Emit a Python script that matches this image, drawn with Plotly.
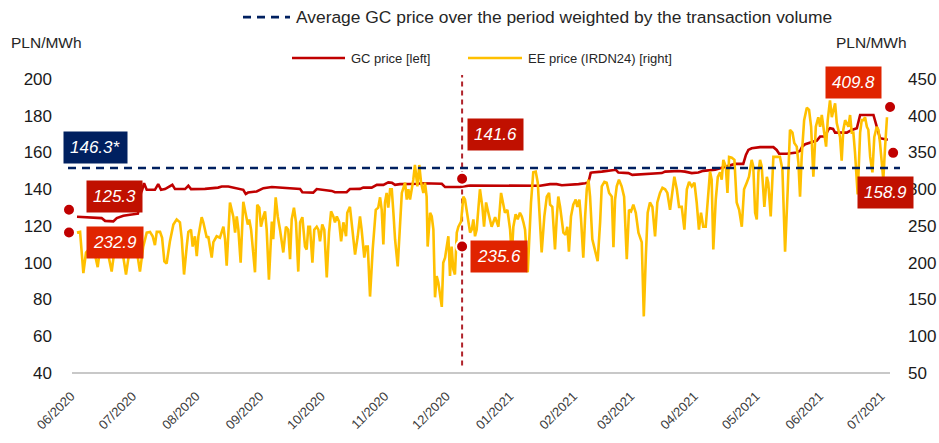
import pandas as pd
import plotly.graph_objects as go

START = pd.Timestamp("2020-06-01")

# ---- EE price (IRDN24), right axis: day offset from 2020-06-01 and value
ee_day = [0, 1.5, 3.1, 4.4, 6.3, 7.9, 10.1, 11.2, 12.8, 14.5, 16.9, 18.5, 20.1, 21.8, 23.9, 25.9, 28.3, 30.7, 32.3, 34.0,
          35.6, 36.9, 38.0, 38.9, 40.5, 41.5, 42.6, 43.7, 45.3, 47.0, 48.6, 50.2, 51.1, 52.2, 53.5, 54.3, 55.6, 56.4, 57.5, 58.4,
          59.2, 60.8, 61.6, 62.4, 63.3, 64.0, 65.7, 66.5, 68.1, 69.7, 71.4, 72.2, 73.0, 74.6, 76.2, 77.1, 77.9, 78.7, 79.8, 81.1,
          82.3, 83.3, 84.0, 84.9, 86.8, 87.9, 88.9, 89.7, 90.9, 91.7, 92.5, 93.6, 95.0, 95.7, 96.9, 97.9, 99.0, 100.6, 101.9, 103.0,
          103.9, 104.7, 105.8, 106.8, 107.9, 108.8, 109.9, 111.2, 112.0, 112.8, 113.6, 114.8, 115.7, 116.9, 117.7, 118.5, 119.6, 120.6, 121.8, 122.9,
          123.9, 125.0, 125.8, 126.7, 127.8, 128.8, 129.9, 131.2, 131.8, 133.1, 134.3, 135.6, 136.9, 138.0, 138.8, 140.1, 140.9, 141.8, 142.9, 144.2,
          145.7, 146.9, 147.8, 148.6, 149.4, 150.2, 151.0, 151.8, 152.7, 153.5, 154.3, 155.1, 156.4, 157.5, 158.4, 160.0, 160.8, 161.6, 162.4, 164.0,
          164.8, 166.0, 166.9, 167.8, 168.9, 169.7, 170.5, 171.0, 172.2, 173.0, 173.8, 174.6, 175.4, 176.2, 177.0, 177.9, 178.6, 179.5, 180.3, 181.1,
          181.9, 182.7, 183.5, 184.3, 185.2, 186.0, 187.3, 188.4, 189.2, 190.1, 190.8, 191.7, 192.5, 193.3, 194.1, 194.9, 196.5, 197.7, 198.5, 199.5,
          200.6, 201.4, 202.2, 203.9, 205.5, 206.8, 207.9, 208.7, 209.9, 211.2, 212.0, 212.8, 213.9, 214.9, 216.0, 216.9, 217.7, 218.5, 219.8, 220.6,
          221.4, 222.5, 223.7, 224.7, 225.8, 226.6, 227.9, 229.1, 230.2, 230.7, 231.8, 233.1, 233.9, 234.7, 235.6, 236.4, 237.2, 238.3, 239.1, 239.9,
          240.9, 242.0, 243.2, 244.0, 245.0, 245.8, 246.9, 247.8, 248.6, 249.4, 250.2, 251.3, 252.6, 253.9, 255.1, 255.9, 257.2, 258.3, 259.5, 260.8,
          261.6, 262.4, 263.2, 264.3, 265.6, 266.8, 268.1, 269.2, 270.2, 271.3, 272.5, 273.8, 275.4, 276.4, 277.4, 278.3, 279.4, 280.6, 281.9, 283.0,
          284.3, 285.5, 286.8, 287.9, 289.2, 290.3, 291.3, 292.5, 293.6, 294.9, 296.2, 297.4, 298.5, 299.8, 301.1, 302.2, 303.3, 304.3, 305.4, 306.6,
          307.9, 308.7, 309.5, 310.3, 311.5, 312.5, 313.6, 314.4, 315.2, 316.4, 317.2, 318.0, 319.3, 320.6, 321.7, 322.9, 324.2, 325.3, 326.6, 327.7,
          329.0, 329.8, 330.7, 331.5, 332.3, 333.1, 333.9, 335.2, 336.4, 337.1, 338.3, 339.6, 341.2, 342.8, 344.0, 345.3, 346.6, 347.7, 348.9, 349.8,
          351.0, 351.8, 352.6, 353.4, 354.6, 355.9, 357.0, 358.0, 359.1, 360.3, 361.5, 362.4, 363.2, 364.5, 365.3, 366.1, 367.2, 368.1, 368.9, 369.7,
          370.5, 371.3, 372.1, 372.9, 373.7, 374.6, 375.4, 376.2, 377.0, 377.8, 378.6, 379.4, 380.7, 381.9, 382.7, 383.5, 384.3, 385.2, 385.9, 386.8,
          387.9, 388.8, 390.0, 390.8, 391.6, 392.4, 393.2, 394.0, 395.0]
ee_val = [241, 242, 186, 214, 220, 222, 194, 218, 222, 221, 188, 222, 228, 222, 184, 222, 232, 188, 222, 241,
          242, 236, 224, 242, 242, 234, 202, 199, 229, 252, 259, 255, 232, 184, 222, 242, 245, 222, 236, 209,
          236, 262, 255, 245, 234, 236, 207, 228, 236, 234, 249, 232, 196, 282, 263, 241, 263, 245, 200, 283,
          263, 252, 259, 245, 187, 279, 275, 249, 263, 270, 245, 177, 256, 232, 289, 263, 245, 214, 249, 245,
          205, 259, 275, 255, 188, 255, 262, 222, 218, 249, 249, 200, 245, 249, 245, 229, 252, 245, 180, 241,
          270, 263, 255, 263, 256, 229, 255, 236, 268, 276, 245, 211, 236, 263, 245, 207, 222, 222, 154, 218,
          272, 275, 289, 272, 225, 282, 295, 275, 300, 300, 268, 232, 195, 255, 295, 309, 286, 300, 286, 313,
          333, 304, 333, 309, 295, 309, 290, 222, 268, 263, 245, 153, 182, 173, 154, 140, 200, 207, 222, 236,
          182, 222, 191, 184, 241, 249, 256, 290, 286, 268, 255, 241, 245, 259, 236, 245, 300, 276, 249, 282,
          268, 256, 249, 262, 249, 295, 276, 268, 272, 245, 209, 249, 266, 259, 268, 263, 255, 245, 187, 232,
          282, 323, 324, 309, 249, 214, 263, 290, 295, 279, 276, 218, 259, 290, 276, 255, 241, 238, 249, 215,
          263, 279, 286, 276, 286, 259, 207, 263, 300, 313, 290, 232, 218, 202, 255, 304, 310, 309, 295, 290,
          221, 286, 304, 313, 304, 290, 205, 272, 270, 279, 268, 241, 228, 127, 209, 268, 282, 276, 236, 282,
          295, 302, 300, 295, 272, 300, 317, 300, 276, 276, 245, 300, 310, 304, 309, 282, 245, 268, 249, 249,
          304, 324, 313, 218, 286, 317, 323, 313, 340, 331, 295, 344, 343, 340, 282, 272, 249, 300, 309, 317,
          340, 331, 268, 259, 323, 340, 331, 276, 317, 309, 263, 344, 344, 344, 327, 215, 300, 381, 377, 363,
          358, 336, 290, 344, 394, 411, 408, 385, 317, 385, 398, 385, 401, 371, 358, 394, 421, 398, 408, 417,
          390, 381, 371, 339, 381, 394, 390, 385, 401, 377, 377, 350, 293, 377, 394, 394, 398, 385, 381, 344,
          323, 371, 385, 381, 363, 340, 313, 354, 398]

# ---- GC price, left axis
gc_day = [0, 3.9, 8.8, 12.0, 13.7, 17.7, 19.4, 22.6, 25.8, 29.7, 31.2, 31.8, 32.7, 34.0, 38.0, 39.6, 41.0, 42.9, 46.5, 47.8,
          52.7, 54.3, 55.6, 62.4, 68.8, 70.6, 73.8, 77.9, 81.1, 82.3, 83.4, 87.6, 90.9, 95.0, 99.0, 104.7, 108.8, 109.9, 115.2, 116.9,
          121.0, 124.2, 125.8, 131.5, 133.1, 138.0, 139.6, 143.7, 146.2, 149.4, 151.8, 153.6, 155.1, 157.5, 166.3, 168.1, 177.9, 179.5, 184.3, 186.8,
          191.7, 206.3, 215.2, 225.8, 230.7, 233.9, 236.4, 242.9, 244.6, 247.8, 249.4, 250.5, 251.1, 255.9, 260.8, 262.8, 264.0, 268.9, 270.8, 277.0,
          281.9, 285.2, 286.8, 293.4, 296.5, 299.8, 303.0, 305.4, 311.2, 315.2, 320.9, 324.9, 326.2, 327.4, 329.0, 333.1, 339.6, 341.2, 342.4, 346.1,
          351.0, 352.6, 353.6, 355.1, 358.3, 360.8, 362.4, 364.8, 366.3, 367.2, 368.7, 369.7, 375.4, 377.8, 380.3, 381.4, 381.9, 388.4, 389.6, 391.6,
          395.4]
gc_val = [125.0, 124.8, 124.5, 124.3, 122.8, 122.5, 124.3, 125.6, 126.1, 126.7, 138.1, 139.7, 143.3, 139.7, 139.7, 142.8, 139.7, 140.1, 142.4, 140.1,
          140.1, 141.9, 140.1, 140.2, 140.9, 141.5, 141.5, 140.6, 139.7, 137.4, 138.2, 138.8, 140.6, 141.2, 140.9, 140.1, 140.1, 138.4, 138.2, 140.1,
          139.7, 139.1, 138.4, 138.4, 140.1, 140.2, 140.9, 140.9, 142.4, 142.4, 143.7, 143.5, 142.4, 142.8, 143.0, 143.3, 143.0, 141.2, 141.2, 141.3,
          142.0, 142.0, 141.9, 141.9, 142.8, 142.8, 142.2, 142.4, 142.8, 143.3, 143.7, 148.9, 149.1, 149.6, 150.2, 150.6, 149.1, 148.8, 147.8, 148.1,
          148.4, 148.8, 149.6, 149.9, 149.6, 148.8, 149.1, 150.0, 150.6, 151.8, 153.8, 153.8, 158.7, 161.4, 162.3, 162.9, 162.9, 161.4, 159.3, 159.3,
          160.0, 160.9, 163.1, 164.5, 165.4, 166.5, 168.7, 168.7, 172.3, 173.2, 172.8, 170.8, 170.8, 172.3, 173.2, 177.7, 180.4, 180.4, 175.9, 167.8,
          166.9]

# ---- highlighted points
gc_mark_day = [-3.9, 187.8, 398.0]
gc_mark_val = [128.8, 145.7, 159.8]
ee_mark_day = [-3.9, 187.8, 396.5]
ee_mark_val = [241.2, 222.2, 412.0]

avg_line_value = 151.6
avg_label = "146.3*"
split_day = 187.8

tick_dates = ["2020-06-01", "2020-07-01", "2020-08-01", "2020-09-01", "2020-10-01", "2020-11-01", "2020-12-01",
              "2021-01-01", "2021-02-01", "2021-03-01", "2021-04-01", "2021-05-01", "2021-06-01", "2021-07-01"]
tick_text = ["06/2020", "07/2020", "08/2020", "09/2020", "10/2020", "11/2020", "12/2020",
             "01/2021", "02/2021", "03/2021", "04/2021", "05/2021", "06/2021", "07/2021"]

left_ticks = [40, 60, 80, 100, 120, 140, 160, 180, 200]
right_ticks = [50, 100, 150, 200, 250, 300, 350, 400, 450]

RED = "#C00000"
RED_BOX = "#C01000"
RED2 = "#E02400"
GOLD = "#FFC000"
NAVY = "#002060"
FONT = "Liberation Sans, Arial, sans-serif"
TXT = "#262626"

# pixel scale of the time axis: day 0 at px 77, 2.0506 px per day
DAY0_PX, PX_PER_DAY = 77.0, 2.0506
L, R, T, B = 64, 898, 79, 373.5
W, H = R - L, B - T


def px(xp):
    return (xp - L) / W


def py(yp):
    return (B - yp) / H


def to_dates(days):
    return [START + pd.Timedelta(days=d) for d in days]


n_ee = min(len(ee_day), len(ee_val))
n_gc = min(len(gc_day), len(gc_val))

fig = go.Figure()
fig.add_trace(go.Scatter(x=to_dates(ee_day[:n_ee]), y=ee_val[:n_ee], mode="lines", yaxis="y2",
                         line=dict(color=GOLD, width=2.6), name="EE price (IRDN24) [right]"))
fig.add_trace(go.Scatter(x=to_dates(gc_day[:n_gc]), y=gc_val[:n_gc], mode="lines", yaxis="y",
                         line=dict(color=RED, width=2.6), name="GC price [left]"))
fig.add_trace(go.Scatter(x=to_dates(gc_mark_day), y=gc_mark_val, mode="markers", yaxis="y", cliponaxis=False,
                         marker=dict(color=RED, size=12, line=dict(color="white", width=2))))
fig.add_trace(go.Scatter(x=to_dates(ee_mark_day), y=ee_mark_val, mode="markers", yaxis="y2", cliponaxis=False,
                         marker=dict(color=RED, size=12, line=dict(color="white", width=2))))

shapes = [
    # x axis line
    dict(type="line", xref="paper", yref="paper", x0=px(72), x1=px(890), y0=0, y1=0,
         line=dict(color="#C8C8C8", width=2), layer="below"),
    # average line
    dict(type="line", xref="paper", yref="y", x0=px(68), x1=px(900), y0=avg_line_value, y1=avg_line_value,
         line=dict(color=NAVY, width=2.6, dash="8px,6px"), layer="above"),
    # vertical split line
    dict(type="line", xref="x", yref="paper", x0=START + pd.Timedelta(days=split_day),
         x1=START + pd.Timedelta(days=split_day),
         y0=py(366), y1=py(75), line=dict(color="#B0232A", width=2, dash="5px,4px"), layer="below"),
    # legend symbols
    dict(type="line", xref="paper", yref="paper", x0=px(243), x1=px(290), y0=py(17), y1=py(17),
         line=dict(color=NAVY, width=2.6, dash="8px,6px")),
    dict(type="line", xref="paper", yref="paper", x0=px(292), x1=px(345), y0=py(58), y1=py(58),
         line=dict(color=RED, width=2.6)),
    dict(type="line", xref="paper", yref="paper", x0=px(468), x1=px(522), y0=py(58), y1=py(58),
         line=dict(color=GOLD, width=2.6)),
]

annotations = [
    dict(text="Average GC price over the period weighted by the transaction volume", xref="paper", yref="paper",
         x=px(294), y=py(17), xanchor="left", yanchor="middle", showarrow=False,
         font=dict(family=FONT, size=17.4, color=TXT)),
    dict(text="GC price [left]", xref="paper", yref="paper", x=px(349), y=py(58), xanchor="left", yanchor="middle",
         showarrow=False, font=dict(family=FONT, size=13, color=TXT)),
    dict(text="EE price (IRDN24) [right]", xref="paper", yref="paper", x=px(526), y=py(58), xanchor="left",
         yanchor="middle", showarrow=False, font=dict(family=FONT, size=13, color=TXT)),
    dict(text="PLN/MWh", xref="paper", yref="paper", x=px(9), y=py(42), xanchor="left", yanchor="middle",
         showarrow=False, font=dict(family=FONT, size=15.5, color=TXT)),
    dict(text="PLN/MWh", xref="paper", yref="paper", x=px(834), y=py(42), xanchor="left", yanchor="middle",
         showarrow=False, font=dict(family=FONT, size=15.5, color=TXT)),
]

boxes = [
    (avg_label, 95.5, 148, NAVY),
    ("125.3", 114, 196.5, RED_BOX),
    ("232.9", 115, 243, RED2),
    ("141.6", 495, 135, RED_BOX),
    ("235.6", 498.5, 256.5, RED2),
    ("409.8", 853, 82.5, RED2),
    ("158.9", 885, 193, RED_BOX),
]
for txt, bx, by, col in boxes:
    annotations.append(dict(text="<i>" + txt + "</i>", xref="paper", yref="paper", x=px(bx), y=py(by),
                            xanchor="center", yanchor="middle", showarrow=False, bgcolor=col, borderpad=6,
                            font=dict(family=FONT, size=17, color="white")))

x_lo = START + pd.Timedelta(days=(L - DAY0_PX) / PX_PER_DAY)
x_hi = START + pd.Timedelta(days=(R - DAY0_PX) / PX_PER_DAY)

fig.update_layout(
    width=939, height=443,
    margin=dict(l=L, r=939 - R, t=T, b=443 - B, autoexpand=False),
    paper_bgcolor="white", plot_bgcolor="white",
    showlegend=False, hovermode=False,
    shapes=shapes, annotations=annotations,
    xaxis=dict(type="date", range=[x_lo, x_hi], automargin=False,
               tickvals=[pd.Timestamp(d) for d in tick_dates], ticktext=tick_text, tickangle=-45,
               showgrid=False, zeroline=False, showline=False,
               ticks="", ticklabelstandoff=12, ticklabelshift=-6,
               tickfont=dict(family=FONT, size=13, color="#404040")),
    yaxis=dict(range=[40, 200], tickvals=left_ticks, showgrid=False, zeroline=False, showline=False,
               automargin=False,
               ticks="", ticklabelstandoff=11, tickfont=dict(family=FONT, size=17, color="#1a1a1a")),
    yaxis2=dict(range=[50, 450], tickvals=right_ticks, overlaying="y", side="right", showgrid=False,
                automargin=False,
                zeroline=False, showline=False, ticks="", ticklabelstandoff=9,
                tickfont=dict(family=FONT, size=17, color="#1a1a1a")),
)

fig.write_html("out.html", config={"displayModeBar": False},
               post_script="document.body.style.margin='0px';document.body.style.overflow='hidden';")
